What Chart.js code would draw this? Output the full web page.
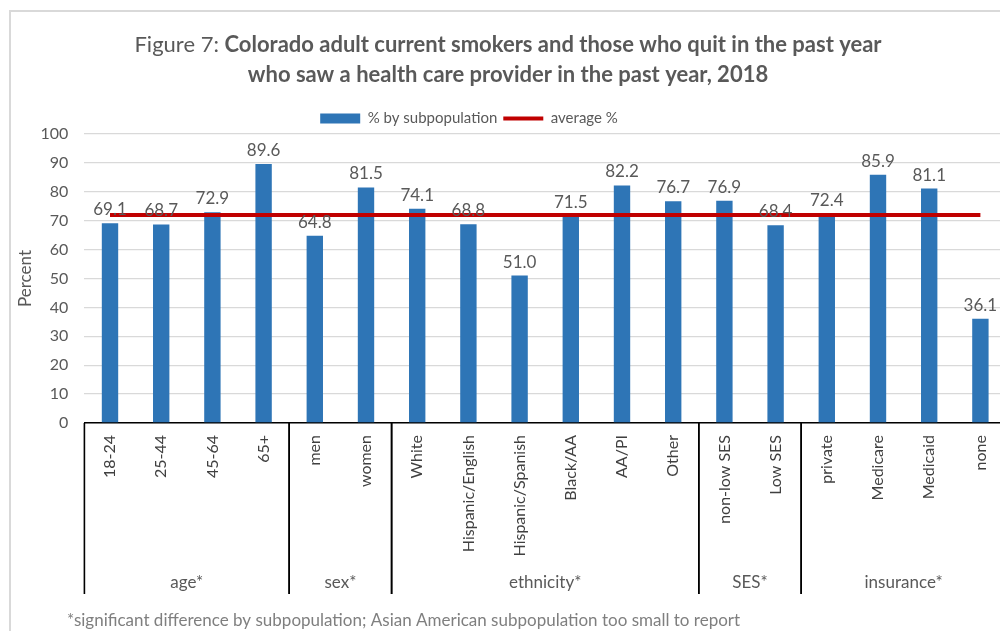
<!DOCTYPE html>
<html>
<head>
<meta charset="utf-8">
<script src="https://cdn.jsdelivr.net/npm/chart.js@4/dist/chart.umd.min.js"></script>
<style>
  html, body { margin: 0; padding: 0; background: #fff; overflow: hidden; }
  #wrap { width: 1012px; height: 631px; }
</style>
</head>
<body>
<div id="wrap"><canvas id="myChart" width="1012" height="631"></canvas></div>
<script>
// subpopulations along the x axis
const categories = ['18-24', '25-44', '45-64', '65+', 'men', 'women', 'White', 'Hispanic/English',
    'Hispanic/Spanish', 'Black/AA', 'AA/PI', 'Other', 'non-low SES', 'Low SES', 'private',
    'Medicare', 'Medicaid', 'none'];
// % who saw a health care provider
const percentValues = [69.1, 68.7, 72.9, 89.6, 64.8, 81.5, 74.1, 68.8, 51.0, 71.5, 82.2, 76.7,
    76.9, 68.4, 72.4, 85.9, 81.1, 36.1];
const averagePercent = 72.0;
// groups under the axis, with how many categories each one spans
const groupNames = ['age*', 'sex*', 'ethnicity*', 'SES*', 'insurance*'];
const groupSizes = [4, 2, 6, 2, 4];
const yTicks = [0, 10, 20, 30, 40, 50, 60, 70, 80, 90, 100];

const titleStart = 'Figure 7: ';
const titleBold = 'Colorado adult current smokers and those who quit in the past year';
const titleLine2 = 'who saw a health care provider in the past year, 2018';
const footnote = '*significant difference by subpopulation; Asian American subpopulation too small to report';

const FONT = 'Lato, "Open Sans", sans-serif';
const GREY = '#595959';

// frame, title and footnote
const decorPlugin = {
    id: 'decor',
    beforeDraw(chart) {
        const ctx = chart.ctx;
        ctx.save();
        ctx.fillStyle = '#fff';
        ctx.fillRect(0, 0, chart.width, chart.height);
        ctx.strokeStyle = '#d9d9d9';
        ctx.lineWidth = 2;
        ctx.strokeRect(10, 11, chart.width + 20, chart.height + 20);
        ctx.restore();
    },
    afterDraw(chart) {
        const ctx = chart.ctx;
        ctx.save();
        ctx.fillStyle = GREY;
        ctx.textBaseline = 'middle';
        ctx.textAlign = 'left';
        ctx.font = '22px ' + FONT;
        let w1 = ctx.measureText(titleStart).width;
        ctx.font = 'bold 22px ' + FONT;
        let w2 = ctx.measureText(titleBold).width;
        let x0 = 508 - (w1 + w2) / 2;
        ctx.font = '22px ' + FONT;
        ctx.fillText(titleStart, x0, 45);
        ctx.font = 'bold 22px ' + FONT;
        ctx.fillText(titleBold, x0 + w1, 45);
        ctx.textAlign = 'center';
        ctx.fillText(titleLine2, 508, 75);

        ctx.textAlign = 'left';
        ctx.font = '17px ' + FONT;
        ctx.fillStyle = '#7f7f7f';
        ctx.fillText(footnote, 67, 621);
        ctx.restore();
    }
};

// value labels above each bar
const valueLabels = {
    id: 'valueLabels',
    afterDatasetsDraw(chart) {
        const ctx = chart.ctx;
        const meta = chart.getDatasetMeta(0);
        ctx.save();
        ctx.font = '17px ' + FONT;
        ctx.fillStyle = GREY;
        ctx.textAlign = 'center';
        ctx.textBaseline = 'bottom';
        meta.data.forEach((bar, i) => {
            ctx.fillText(percentValues[i].toFixed(1), bar.x, bar.y - 5);
        });
        ctx.restore();
    }
};

// group boxes and names under the category labels
const groupAxis = {
    id: 'groupAxis',
    afterDraw(chart) {
        const ctx = chart.ctx;
        const xs = chart.scales.x;
        const bottom = chart.chartArea.bottom;
        const step = xs.getPixelForValue(1) - xs.getPixelForValue(0);
        ctx.save();
        ctx.strokeStyle = '#000';
        ctx.lineWidth = 1.6;
        ctx.fillStyle = GREY;
        ctx.font = '17px ' + FONT;
        ctx.textAlign = 'center';
        ctx.textBaseline = 'middle';
        let start = 0;
        for (let g = 0; g < groupNames.length; g++) {
            let left = xs.getPixelForValue(start) - step / 2;
            let right = left + groupSizes[g] * step;
            ctx.beginPath();
            ctx.moveTo(left, bottom);
            ctx.lineTo(left, bottom + 171);
            ctx.moveTo(right, bottom);
            ctx.lineTo(right, bottom + 171);
            ctx.stroke();
            ctx.fillText(groupNames[g], (left + right) / 2, bottom + 160);
            start += groupSizes[g];
        }
        ctx.restore();
    }
};

// move the legend a little left of centre and down
const legendShift = {
    id: 'legendShift',
    afterLayout(chart) {
        chart.legend.left -= 34;
        chart.legend.right -= 34;
        chart.legend.top += 2;
        chart.legend.bottom += 2;
    }
};

const ctx = document.getElementById('myChart').getContext('2d');
const myChart = new Chart(ctx, {
    type: 'bar',
    data: {
        labels: categories,
        datasets: [{
                type: 'bar',
                label: '% by subpopulation',
                data: percentValues,
                backgroundColor: '#2e75b6',
                borderWidth: 0,
                barPercentage: 0.32,
                categoryPercentage: 1,
                order: 1
            },
            {
                type: 'line',
                label: 'average %',
                data: categories.map(() => averagePercent),
                borderColor: '#c00000',
                borderWidth: 4,
                pointRadius: 0,
                pointBorderWidth: 4,
                pointBorderColor: '#c00000',
                tension: 0,
                fill: false,
                order: 0
            }
        ]
    },
    options: {
        responsive: false,
        animation: false,
        devicePixelRatio: 1,
        layout: {
            padding: { top: 103, right: 6, left: 0, bottom: 0 }
        },
        plugins: {
            tooltip: { enabled: false },
            legend: {
                position: 'top',
                labels: {
                    usePointStyle: true,
                    pointStyleWidth: 40,
                    boxHeight: 10,
                    padding: 6,
                    color: GREY,
                    font: { family: FONT, size: 15 },
                    sort: (a, b) => a.datasetIndex - b.datasetIndex,
                    generateLabels(chart) {
                        const items = Chart.defaults.plugins.legend.labels.generateLabels(chart);
                        items.forEach(item => {
                            const ds = chart.data.datasets[item.datasetIndex];
                            if (ds.type === 'line') {
                                item.pointStyle = 'line';
                                item.strokeStyle = ds.borderColor;
                                item.lineWidth = 4;
                            } else {
                                item.pointStyle = 'rect';
                                item.lineWidth = 0;
                            }
                        });
                        return items;
                    }
                }
            }
        },
        scales: {
            x: {
                grid: { display: false, drawTicks: false },
                border: { display: true, color: '#000', width: 1.6 },
                ticks: {
                    color: '#404040',
                    font: { family: FONT, size: 16 },
                    maxRotation: 90,
                    minRotation: 90,
                    padding: 12,
                    autoSkip: false
                },
                afterFit(scale) {
                    scale.height = 208;
                }
            },
            y: {
                min: 0,
                max: 100,
                afterBuildTicks(scale) {
                    scale.ticks = yTicks.map(v => ({ value: v }));
                },
                grid: { color: '#d9d9d9', lineWidth: 1.3, drawTicks: false },
                border: { display: false },
                ticks: {
                    color: GREY,
                    font: { family: FONT, size: 16 },
                    padding: 16
                },
                title: {
                    display: true,
                    text: 'Percent',
                    color: GREY,
                    font: { family: FONT, size: 17 },
                    padding: { top: 15, bottom: 0 }
                },
                afterFit(scale) {
                    scale.width = 84.4;
                }
            }
        }
    },
    plugins: [decorPlugin, valueLabels, groupAxis, legendShift]
});
</script>
</body>
</html>
